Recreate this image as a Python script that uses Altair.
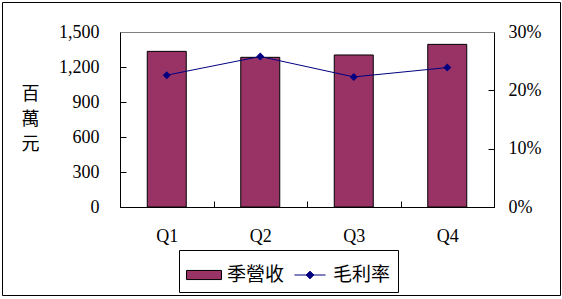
import altair as alt
import pandas as pd

quarters = ["Q1", "Q2", "Q3", "Q4"]
revenue = [1334, 1283, 1303, 1394]
margin = [0.226, 0.258, 0.223, 0.239]
series_names = ["季營收", "毛利率"]
rev_ticks = [0, 300, 600, 900, 1200, 1500]
pct_ticks = [0, 0.1, 0.2, 0.3]

df = pd.DataFrame({"q": quarters, "rev": revenue, "gm": margin})
legend_df = pd.DataFrame({"series": series_names})
one = pd.DataFrame({"a": [0]})

W, H = 374, 175
SERIF = "Liberation Serif"
CJK = "Noto Sans CJK TC"
BAR = "#993366"
NAVY = "#000080"

x_axis = alt.Axis(title=None, labelAngle=0, domain=False, offset=-6, tickSize=6,
                  tickBand="extent", tickColor="black", labelFont=SERIF,
                  labelFontSize=18, labelColor="black", labelPadding=20, grid=False)
xenc = alt.X("q:N", sort=quarters, scale=alt.Scale(paddingInner=0, paddingOuter=0), axis=x_axis)

left_axis = alt.Axis(values=rev_ticks, format=",d", domain=False, offset=-6, tickSize=6,
                     tickColor="black", grid=False, labelFont=SERIF, labelFontSize=18,
                     labelColor="black", labelPadding=21,
                     title=["百", "萬", "元"], titleAngle=0, titleX=-96, titleY=53,
                     titleAlign="center", titleBaseline="top", titleLineHeight=25,
                     titleFont=CJK, titleFontSize=18, titleFontWeight="normal",
                     titleColor="black")
right_axis = alt.Axis(orient="right", values=pct_ticks, format=".0%", domain=False,
                      offset=-6, tickSize=6, tickColor="black", grid=False,
                      labelFont=SERIF, labelFontSize=18, labelColor="black",
                      labelPadding=14, title=None)

frame = alt.Chart(one).mark_rect(filled=False, color="black", strokeWidth=1).encode(
    x=alt.value(0.5), x2=alt.value(W + 0.5), y=alt.value(0.5), y2=alt.value(H + 0.5))
top_line = alt.Chart(one).mark_rule(color="#808080", strokeWidth=1).encode(
    x=alt.value(0.5), x2=alt.value(W + 0.5), y=alt.value(0.5))
outer = alt.Chart(one).mark_rect(filled=False, color="black", strokeWidth=1).encode(
    x=alt.value(-117.5), x2=alt.value(440.5), y=alt.value(-29.5), y2=alt.value(263.5))

bars = alt.Chart(df).mark_bar(fill=BAR, stroke="black", strokeWidth=1, size=39).encode(
    x=xenc,
    y=alt.Y("rev:Q", scale=alt.Scale(domain=[0, 1500], nice=False), axis=left_axis))

yr = alt.Y("gm:Q", scale=alt.Scale(domain=[0, 0.3], nice=False), axis=right_axis)
line = alt.Chart(df).mark_line(color=NAVY, strokeWidth=1).encode(x=xenc, y=yr)
pts = alt.Chart(df).mark_point(shape="diamond", size=64, filled=True, color=NAVY, opacity=1).encode(x=xenc, y=yr)

rect_path = "M-1,-0.26L1,-0.26L1,0.26L-1,0.26Z"
line_path = "M-0.89,0L0.89,0M0,-0.22L0.22,0L0,0.22L-0.22,0Z"
leg = alt.Legend(title=None, orient="none", legendX=59, legendY=218, direction="horizontal",
                 strokeColor="black", fillColor="white", padding=7, labelFont=CJK,
                 labelFontSize=19, labelColor="black", labelOffset=5, columnPadding=7,
                 symbolSize=1225, symbolStrokeWidth=1)
legend_layer = alt.Chart(legend_df).transform_filter("false").mark_point(
    filled=True, opacity=1, size=1225).encode(
    shape=alt.Shape("series:N", scale=alt.Scale(domain=series_names, range=[rect_path, line_path]), legend=leg),
    fill=alt.Fill("series:N", scale=alt.Scale(domain=series_names, range=[BAR, NAVY]), legend=leg),
    stroke=alt.Stroke("series:N", scale=alt.Scale(domain=series_names, range=["black", NAVY]), legend=leg),
)

left_part = alt.layer(frame, bars)
right_part = alt.layer(line, pts)

chart = alt.layer(left_part, right_part, top_line, outer, legend_layer).resolve_scale(
    y="independent"
).properties(
    width=W, height=H,
    autosize=alt.AutoSizeParams(type="none"),
    padding={"left": 120, "top": 32, "right": 68, "bottom": 92},
    background="white",
).configure_view(stroke=None)

chart.save("out.html", embed_options={"renderer": "svg", "actions": False})
